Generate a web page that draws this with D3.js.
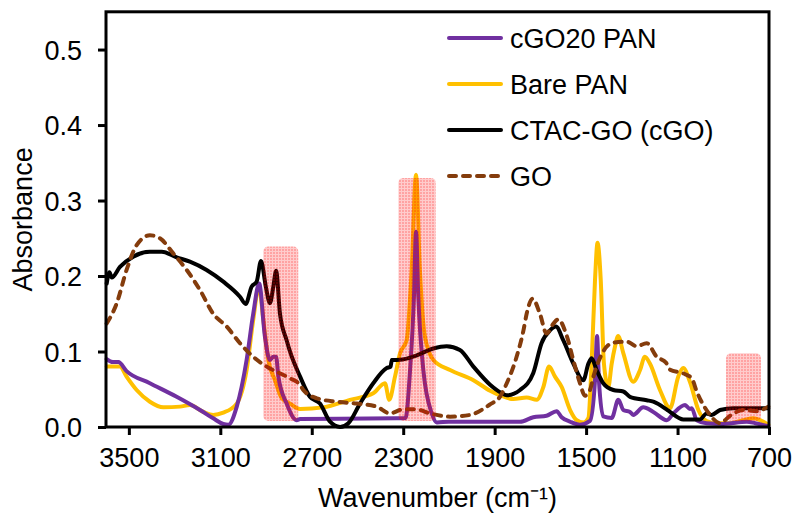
<!DOCTYPE html>
<meta charset="utf-8">
<title>FTIR spectra</title>
<style>
  body { margin: 0; background: #fff; }
  svg text { font-family: "Liberation Sans", Arial, sans-serif; fill: #000; }
</style>
<svg width="795" height="516"></svg>
<script src="https://d3js.org/d3.v7.min.js"></script>
<script>

// values: wavenumber (cm-1) and absorbance
var wnPurple = [3597,3570,3546,3510,3408,3291,3189,3131,3087,3065,3028,2985,2956,2930,2905,2883,2868,2856,2846,2810,2766,2751,2328,2290,2270,2253,2244,2234,2212,2175,2153,2100,1789,1731,1673,1629,1607,1570,1527,1483,1461,1452,1444,1425,1388,1359,1337,1308,1294,1250,1206,1147,1118,1067,1046,1038,1016,973,900,797,760,703];
var absPurple = [0.090,0.086,0.086,0.074,0.058,0.040,0.0225,0.0115,0.004,0.003,0.027,0.0887,0.150,0.190,0.120,0.0887,0.093,0.093,0.0667,0.031,0.009,0.0105,0.0115,0.012,0.0755,0.1726,0.2587,0.1726,0.0755,0.018,0.006,0.007,0.007,0.013,0.015,0.021,0.013,0.007,0.003,0.008,0.062,0.1205,0.062,0.014,0.012,0.036,0.0225,0.020,0.016,0.026,0.020,0.009,0.018,0.029,0.024,0.025,0.009,0.005,0.004,0.007,0.005,0.001];

var wnBare = [3597,3539,3510,3466,3408,3349,3276,3233,3174,3131,3087,3028,2985,2956,2931,2912,2890,2861,2831,2795,2751,2649,2533,2431,2380,2361,2336,2314,2285,2263,2244,2227,2205,2168,2095,1993,1920,1877,1818,1760,1716,1687,1662,1636,1607,1570,1541,1512,1490,1476,1461,1450,1436,1422,1403,1388,1374,1360,1337,1294,1264,1243,1221,1177,1133,1097,1075,1046,1009,973,930,870,812,768,739,703];
var absBare = [0.080,0.080,0.0667,0.049,0.0335,0.026,0.027,0.029,0.020,0.016,0.019,0.031,0.0755,0.142,0.186,0.142,0.0887,0.062,0.038,0.031,0.024,0.026,0.036,0.0446,0.058,0.036,0.0667,0.0976,0.115,0.208,0.334,0.208,0.1196,0.0887,0.0755,0.062,0.048,0.042,0.037,0.039,0.036,0.053,0.080,0.0667,0.053,0.0225,0.009,0.006,0.012,0.084,0.195,0.244,0.195,0.084,0.053,0.084,0.106,0.1205,0.0976,0.060,0.0755,0.093,0.084,0.049,0.025,0.0667,0.078,0.060,0.0225,0.008,0.005,0.005,0.009,0.0115,0.009,0.003];

var wnCtac = [3597,3585,3575,3539,3481,3408,3356,3291,3233,3160,3087,3014,2989,2963,2941,2922,2901,2883,2868,2856,2839,2810,2795,2751,2708,2664,2620,2576,2540,2489,2431,2372,2355,2350,2314,2241,2168,2110,2052,1993,1920,1870,1847,1789,1731,1695,1658,1632,1600,1556,1512,1490,1476,1454,1425,1381,1337,1308,1235,1206,1147,1133,1075,1002,973,951,914,856,703];
var absCtac = [0.190,0.205,0.198,0.212,0.2256,0.232,0.232,0.2248,0.219,0.208,0.1925,0.1726,0.163,0.186,0.1925,0.220,0.186,0.164,0.186,0.207,0.150,0.115,0.0998,0.0667,0.040,0.031,0.007,0.0,0.005,0.031,0.058,0.078,0.080,0.0887,0.089,0.095,0.104,0.107,0.102,0.080,0.056,0.045,0.042,0.049,0.0715,0.111,0.128,0.133,0.115,0.084,0.062,0.084,0.091,0.0755,0.058,0.049,0.047,0.040,0.0355,0.0335,0.023,0.020,0.010,0.010,0.018,0.016,0.0225,0.025,0.025];

var wnGO = [3597,3553,3510,3466,3408,3364,3306,3247,3189,3131,3072,3014,2956,2897,2824,2795,2751,2737,2678,2591,2503,2416,2358,2300,2244,2183,2095,2008,1920,1877,1847,1804,1774,1760,1734,1702,1673,1643,1622,1585,1556,1527,1505,1483,1468,1425,1381,1322,1279,1235,1191,1150,1133,1075,1038,1016,958,914,870,812,754,703];
var absGO = [0.137,0.164,0.208,0.241,0.254,0.250,0.230,0.208,0.1815,0.150,0.133,0.111,0.093,0.080,0.069,0.0645,0.0556,0.049,0.038,0.0335,0.031,0.027,0.018,0.0234,0.0234,0.018,0.0137,0.016,0.030,0.040,0.058,0.093,0.128,0.150,0.170,0.150,0.124,0.137,0.1426,0.121,0.0887,0.058,0.0415,0.049,0.0667,0.100,0.1117,0.113,0.107,0.111,0.093,0.085,0.076,0.071,0.0645,0.047,0.016,0.005,0.015,0.0225,0.021,0.027];

var seriesNames = ["cGO20 PAN", "Bare PAN", "CTAC-GO (cGO)", "GO"];

// highlighted bands
var bandFrom = [2912, 2321, 888];
var bandTo = [2759, 2158, 735];
var bandTop = [0.239, 0.330, 0.0976];
var bandBottom = [0.008, 0.008, 0.008];

var xTicks = [3500, 3100, 2700, 2300, 1900, 1500, 1100, 700];
var yTicks = [0.0, 0.1, 0.2, 0.3, 0.4, 0.5];

var svg = d3.select("svg");

var x = d3.scaleLinear().domain([3600, 700]).range([106, 769]);
var y = d3.scaleLinear().domain([0, 0.55]).range([427, 11.8]);

function pairs(wn, ab) {
  return wn.map(function(w, i) { return [w, ab[i]]; });
}

var series = [
  { name: seriesNames[1], data: pairs(wnBare, absBare), color: "#FFC000", dash: null },
  { name: seriesNames[0], data: pairs(wnPurple, absPurple), color: "#7030A0", dash: null },
  { name: seriesNames[2], data: pairs(wnCtac, absCtac), color: "#000000", dash: null },
  { name: seriesNames[3], data: pairs(wnGO, absGO), color: "#843C0C", dash: "7,7" }
];

// fine grid texture for the bands
var pat = svg.append("defs").append("pattern")
    .attr("id", "band-fill")
    .attr("patternUnits", "userSpaceOnUse")
    .attr("width", 3).attr("height", 3);
pat.append("rect").attr("width", 3).attr("height", 3)
    .attr("fill", "rgb(255,0,0)").attr("fill-opacity", 0.2);
pat.append("rect").attr("width", 2).attr("height", 2)
    .attr("fill", "rgb(255,0,0)").attr("fill-opacity", 0.2);

var line = d3.line()
    .x(function(d) { return x(d[0]); })
    .y(function(d) { return y(d[1]); })
    .curve(d3.curveMonotoneX);

svg.append("g")
  .selectAll("path")
  .data(series)
  .enter().append("path")
    .attr("d", function(d) { return line(d.data); })
    .attr("fill", "none")
    .attr("stroke", function(d) { return d.color; })
    .attr("stroke-width", 4)
    .attr("stroke-linejoin", "round")
    .attr("stroke-linecap", "round")
    .attr("stroke-dasharray", function(d) { return d.dash; });

// bands on top of the lines
svg.append("g")
  .selectAll("rect")
  .data(bandFrom)
  .enter().append("rect")
    .attr("x", function(d) { return x(d); })
    .attr("width", function(d, i) { return x(bandTo[i]) - x(d); })
    .attr("y", function(d, i) { return y(bandTop[i]); })
    .attr("height", function(d, i) { return y(bandBottom[i]) - y(bandTop[i]); })
    .attr("rx", 5)
    .attr("fill", "url(#band-fill)");

// axes
var xAxis = svg.append("g")
    .attr("transform", "translate(0,427)")
    .call(d3.axisBottom(x).tickValues(xTicks).tickSize(8).tickPadding(13).tickFormat(d3.format("d")));

var yAxis = svg.append("g")
    .attr("transform", "translate(106,0)")
    .call(d3.axisLeft(y).tickValues(yTicks).tickSize(8).tickPadding(16).tickFormat(d3.format(".1f")));

[xAxis, yAxis].forEach(function(g) {
  g.select(".domain").remove();
  g.selectAll(".tick line").attr("stroke", "#000").attr("stroke-width", 3);
  g.selectAll(".tick text")
    .style("font-family", '"Liberation Sans", Arial, sans-serif')
    .style("font-size", "27px")
    .attr("fill", "#000");
});
yAxis.selectAll(".tick text").attr("dy", "0.36em");

// plot frame
svg.append("rect")
    .attr("x", 106)
    .attr("y", y(0.55))
    .attr("width", 769 - 106)
    .attr("height", 427 - y(0.55))
    .attr("fill", "none")
    .attr("stroke", "#000")
    .attr("stroke-width", 3);

// axis titles
svg.append("text")
    .attr("transform", "translate(32," + ((427 + y(0.55)) / 2) + ")rotate(-90)")
    .style("text-anchor", "middle")
    .style("font-size", "27px")
    .text("Absorbance");

svg.append("text")
    .attr("x", (106 + 769) / 2)
    .attr("y", 507)
    .style("text-anchor", "middle")
    .style("font-size", "27px")
    .text("Wavenumber (cm\u207B\u00B9)");

// legend
var legendRows = [
  { name: seriesNames[0], color: "#7030A0", dash: null },
  { name: seriesNames[1], color: "#FFC000", dash: null },
  { name: seriesNames[2], color: "#000000", dash: null },
  { name: seriesNames[3], color: "#843C0C", dash: "7,7" }
];

var legend = svg.append("g")
  .selectAll("g")
  .data(legendRows)
  .enter().append("g")
    .attr("transform", function(d, i) { return "translate(447," + (38 + i * 46) + ")"; });

legend.append("line")
    .attr("x1", 2).attr("x2", 54)
    .attr("stroke", function(d) { return d.color; })
    .attr("stroke-width", 4)
    .attr("stroke-linecap", "round")
    .attr("stroke-dasharray", function(d) { return d.dash; });

legend.append("text")
    .attr("x", 63)
    .attr("y", 10)
    .style("font-size", "27px")
    .text(function(d) { return d.name; });

</script>
